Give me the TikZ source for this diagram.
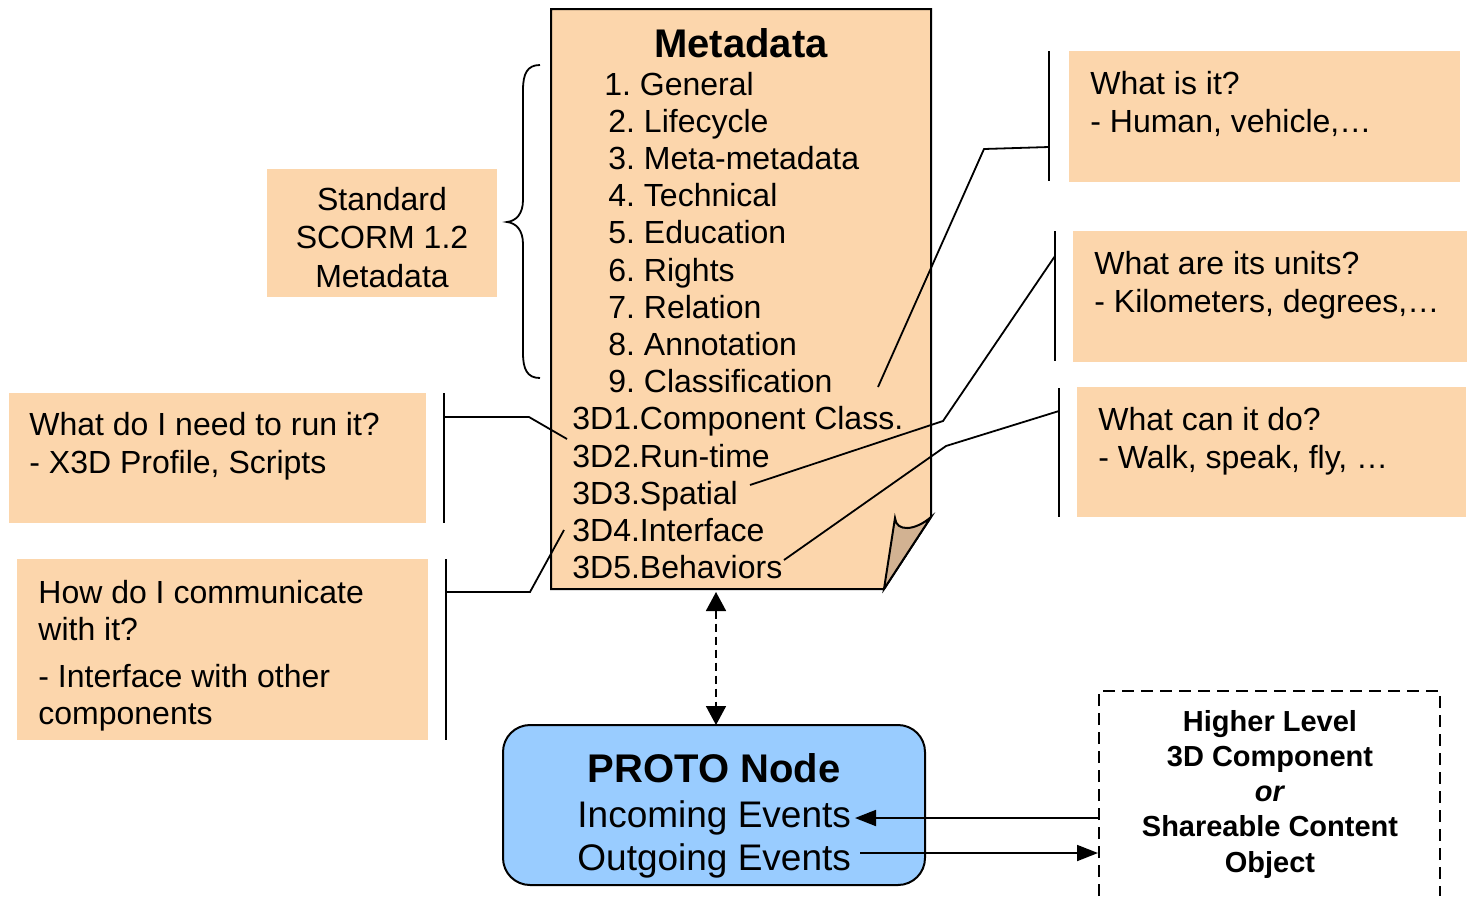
\documentclass[tikz,border=0pt]{standalone}
\usepackage{fontspec}
\setmainfont{Liberation Sans}
\usetikzlibrary{arrows.meta,fit}
\definecolor{peach}{RGB}{252,214,172}
\definecolor{foldtan}{RGB}{210,178,146}
\definecolor{protoblue}{RGB}{153,204,255}
\frenchspacing

\begin{document}
\begin{tikzpicture}[x=0.5pt,y=-0.5pt,
  note/.style={fill=peach,draw=none,inner sep=0pt},
  % multi-line nodes are placed by the baseline of their last line
  body/.style={inner sep=0pt,anchor=base west,align=left,font=\fontsize{16}{19}\selectfont},
  item/.style={inner sep=0pt,anchor=base west,font=\fontsize{16}{19}\selectfont},
  conn/.style={line width=0.9pt,line join=miter},
  bar/.style={line width=0.9pt},
  evt/.style={line width=0.9pt,-{Triangle[length=10.5pt,width=8pt]}},
  link/.style={line width=0.9pt,dash pattern=on 4pt off 2.5pt,
    {Triangle[length=9.5pt,width=10pt]}-{Triangle[length=9.5pt,width=10pt]}},
  outline/.style={line width=0.6pt,dash pattern=on 6pt off 3.5pt}]
\useasboundingbox (0,0) rectangle (1467,896);

% ---------- Metadata sheet with turned-down corner ----------
\coordinate (mdTL) at (551,9);
\coordinate (mdTR) at (931,9);
\coordinate (mdFold) at (931,517);
\coordinate (mdCut) at (884,589);
\coordinate (mdBL) at (551,589);
\coordinate (flapTip) at (895,518);
\filldraw[fill=peach,line width=1pt,line join=miter]
  (mdTL) -- (mdTR) -- (mdFold) -- (mdCut) -- (mdBL) -- cycle;
\filldraw[fill=foldtan,line width=1pt,line join=miter]
  (mdFold) .. controls (915,531) and (896,532) .. (flapTip) -- (mdCut) -- cycle;

\node[inner sep=0pt,anchor=base,font=\bfseries\fontsize{20}{24}\selectfont] (mdtitle) at (741,57.7) {Metadata};
\foreach \lbl/\xs [count=\i] in {1. General/604, 2. Lifecycle/608, 3. Meta-metadata/608,
    4. Technical/608, 5. Education/608, 6. Rights/608, 7. Relation/608,
    8. Annotation/608, 9. Classification/608, 3D1.Component Class./572,
    3D2.Run-time/572, 3D3.Spatial/572, 3D4.Interface/572, 3D5.Behaviors/572}
  \node[item] (m\i) at (\xs,{95+37.2*(\i-1)}) {\lbl};

% ---------- brace for the standard SCORM part ----------
\coordinate (brTop) at (540,65);
\coordinate (brTip) at (507,222);
\coordinate (brBot) at (540,378);
\draw[line width=0.9pt] (brTop) .. controls (527,65) and (523,74) .. (523,90) -- (523,200)
  .. controls (523,214) and (516,221) .. (brTip)
  .. controls (516,223) and (523,230) .. (523,244) -- (523,353)
  .. controls (523,369) and (527,378) .. (brBot);

\node[note,fit={(267,169) (497,297)}] (std) {};
\node[inner sep=0pt,anchor=base,align=center,font=\fontsize{16}{19.25}\selectfont] (stdtxt) at (382,287)
  {Standard\\SCORM 1.2\\Metadata};

% ---------- left question boxes ----------
\node[note,fit={(9,393) (426,523)}] (qrun) {};
\node[body] (qruntxt) at (29,473) {What do I need to run it?\\- X3D Profile, Scripts};
\node[note,fit={(17,559) (428,740)}] (qcom) {};
\node[body,font=\fontsize{16}{18.5}\selectfont] (qcomtxt) at (38,724)
  {How do I communicate\\with it?\\[5pt]- Interface with other\\components};

\coordinate (l1top) at (444,393);  \coordinate (l1bot) at (444,523);
\coordinate (l1hook) at (444,417); \coordinate (l1bend) at (529,417);
\coordinate (l1end) at (567,439);
\draw[bar] (l1top) -- (l1bot);
\draw[conn] (l1hook) -- (l1bend) -- (l1end);

\coordinate (l2top) at (446,559);  \coordinate (l2bot) at (446,740);
\coordinate (l2hook) at (446,592); \coordinate (l2bend) at (530,592);
\coordinate (l2end) at (564,530);
\draw[bar] (l2top) -- (l2bot);
\draw[conn] (l2hook) -- (l2bend) -- (l2end);

% ---------- right question boxes ----------
\node[note,fit={(1069,51) (1460,182)}] (qwhat) {};
\node[body] (qwhattxt) at (1090,132) {What is it?\\- Human, vehicle,…};
\node[note,fit={(1073,231) (1467,362)}] (qunit) {};
\node[body] (qunittxt) at (1094,312) {What are its units?\\- Kilometers, degrees,…};
\node[note,fit={(1077,387) (1466,517)}] (qdo) {};
\node[body] (qdotxt) at (1098,468) {What can it do?\\- Walk, speak, fly, …};

\coordinate (r1top) at (1049,51);   \coordinate (r1bot) at (1049,181);
\coordinate (r1hook) at (1049,147); \coordinate (r1bend) at (984,149);
\coordinate (r1end) at (878,387);
\draw[bar] (r1top) -- (r1bot);
\draw[conn] (r1hook) -- (r1bend) -- (r1end);

\coordinate (r2top) at (1055,231);  \coordinate (r2bot) at (1055,361);
\coordinate (r2hook) at (1055,256); \coordinate (r2bend) at (943,421);
\coordinate (r2end) at (750,485);
\draw[bar] (r2top) -- (r2bot);
\draw[conn] (r2hook) -- (r2bend) -- (r2end);

\coordinate (r3top) at (1059,388);  \coordinate (r3bot) at (1059,517);
\coordinate (r3hook) at (1059,411); \coordinate (r3bend) at (946,446);
\coordinate (r3end) at (784,560);
\draw[bar] (r3top) -- (r3bot);
\draw[conn] (r3hook) -- (r3bend) -- (r3end);

% ---------- PROTO node ----------
\node[fit={(503,725) (925,885)},inner sep=0pt,fill=protoblue,draw,line width=1pt,
  rounded corners=13.5pt] (proto) {};
\node[inner sep=0pt,anchor=base,font=\bfseries\fontsize{20}{24}\selectfont] (prototitle) at (714,782) {PROTO Node};
\node[item,font=\fontsize{18.5}{22}\selectfont] (inev) at (577,827) {Incoming Events};
\node[item,font=\fontsize{18.5}{22}\selectfont] (outev) at (577,870) {Outgoing Events};

\coordinate (linkTop) at (716,592);
\coordinate (linkBot) at (716,725);
\draw[link] (linkTop) -- (linkBot);

% ---------- higher level component ----------
\draw[outline] (1099,896) -- (1099,691) -- (1440,691) -- (1440,896);
\node[inner sep=0pt,anchor=base,align=center,font=\bfseries\fontsize{14.5}{17.6}\selectfont] (hl) at (1270,872)
  {Higher Level\\3D Component\\\textit{or}\\Shareable Content\\Object};

\coordinate (inFrom) at (1099,818);  \coordinate (inTip) at (855,818);
\coordinate (outFrom) at (860,853);  \coordinate (outTip) at (1098,853);
\draw[evt] (inFrom) -- (inTip);
\draw[evt] (outFrom) -- (outTip);
\end{tikzpicture}
\end{document}
